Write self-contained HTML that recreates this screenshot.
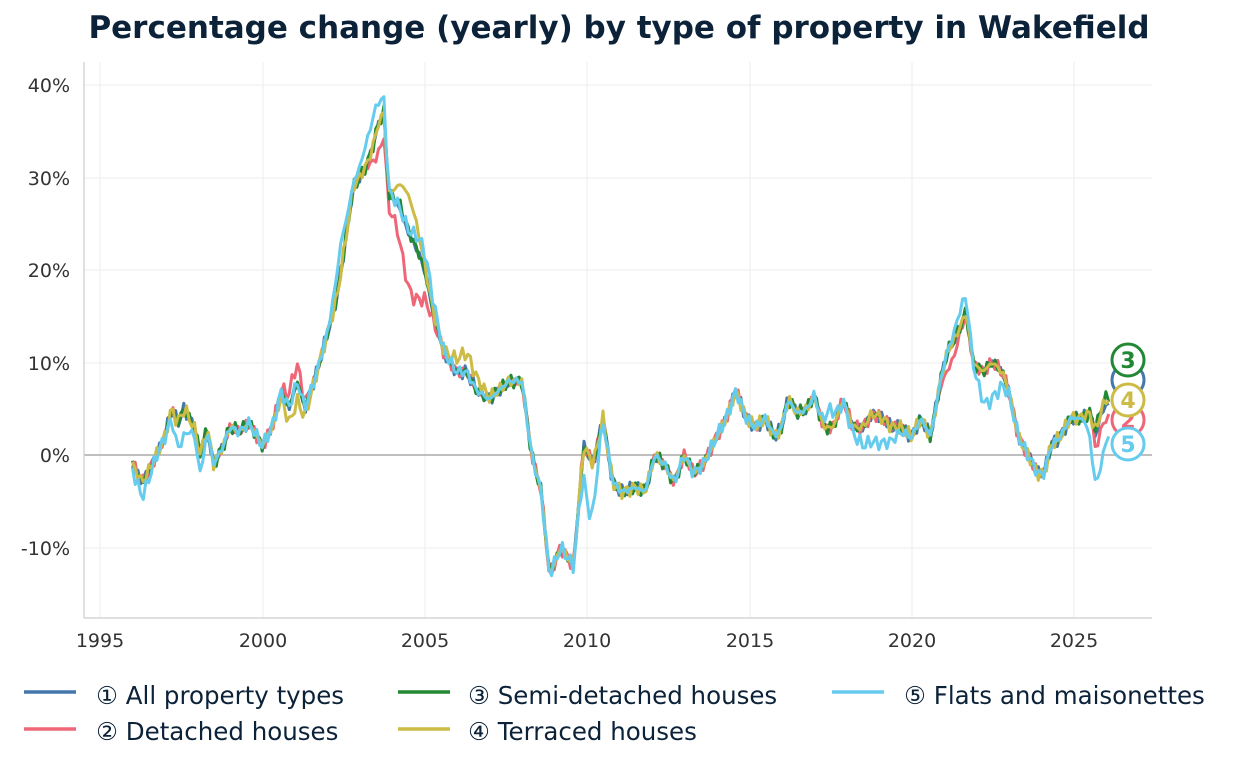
<!DOCTYPE html><html><head><meta charset="utf-8"><style>
body{margin:0;background:#fff;font-family:"Liberation Sans","DejaVu Sans",sans-serif;}
</style></head><body>
<svg id="c" width="1236" height="770" xmlns="http://www.w3.org/2000/svg" font-family="DejaVu Sans, Liberation Sans, sans-serif">
<text x="619" y="38" text-anchor="middle" font-size="31" font-weight="bold" fill="#0b2239">Percentage change (yearly) by type of property in Wakefield</text>
<g stroke="#eeeeee" stroke-width="1">
<line x1="100" y1="62" x2="100" y2="618"/><line x1="263" y1="62" x2="263" y2="618"/><line x1="425" y1="62" x2="425" y2="618"/><line x1="587" y1="62" x2="587" y2="618"/><line x1="750" y1="62" x2="750" y2="618"/><line x1="912" y1="62" x2="912" y2="618"/><line x1="1074" y1="62" x2="1074" y2="618"/>
<line x1="84" y1="85" x2="1152" y2="85"/><line x1="84" y1="178" x2="1152" y2="178"/><line x1="84" y1="270" x2="1152" y2="270"/><line x1="84" y1="363" x2="1152" y2="363"/><line x1="84" y1="548" x2="1152" y2="548"/>
</g>
<line x1="84" y1="455" x2="1152" y2="455" stroke="#aaa" stroke-width="1.5"/>
<g stroke="#ccc" stroke-width="1.2"><line x1="84" y1="62" x2="84" y2="618"/><line x1="84" y1="618" x2="1152" y2="618"/></g>
<g font-size="19" fill="#333" text-anchor="end">
<text x="70" y="92">40%</text><text x="70" y="185">30%</text><text x="70" y="277">20%</text><text x="70" y="370">10%</text><text x="70" y="462">0%</text><text x="70" y="555">-10%</text></g>
<g font-size="19" fill="#333" text-anchor="middle">
<text x="100" y="647">1995</text><text x="263" y="647">2000</text><text x="425" y="647">2005</text><text x="587" y="647">2010</text><text x="750" y="647">2015</text><text x="912" y="647">2020</text><text x="1074" y="647">2025</text></g>
<g id="series"></g>
<g font-size="22" font-weight="bold" text-anchor="middle" stroke-width="3" fill="#fff">
<circle cx="1128" cy="380" r="16" stroke="#4477aa"/>
<circle cx="1128" cy="360" r="16" stroke="#228833"/><text x="1128" y="368" fill="#228833" stroke="none">3</text>
<circle cx="1128" cy="420" r="16" stroke="#ee6677"/><text x="1128" y="428" fill="#ee6677" stroke="none">2</text>
<circle cx="1128" cy="400" r="16" stroke="#ccbb44"/><text x="1128" y="408" fill="#ccbb44" stroke="none">4</text>
<circle cx="1128" cy="444" r="16" stroke="#66ccee"/><text x="1128" y="452" fill="#66ccee" stroke="none">5</text>
</g>
<g stroke-width="3.5">
<line x1="24" y1="692" x2="76" y2="692" stroke="#4477aa"/><line x1="24" y1="729" x2="76" y2="729" stroke="#ee6677"/>
<line x1="398" y1="692" x2="450" y2="692" stroke="#228833"/><line x1="398" y1="729" x2="450" y2="729" stroke="#ccbb44"/>
<line x1="832" y1="692" x2="884" y2="692" stroke="#66ccee"/></g>
<g font-size="24.5" fill="#0b2239">
<text x="96" y="704">① All property types</text><text x="96" y="740">② Detached houses</text>
<text x="468" y="704">③ Semi-detached houses</text><text x="468" y="740">④ Terraced houses</text>
<text x="904" y="704">⑤ Flats and maisonettes</text></g>
</svg>
<script>
var base=[[1996,-1],[1996.3,-3],[1996.6,-1],[1997,2],[1997.2,5],[1997.4,3.5],[1997.6,5],[1997.9,3],[1998.1,0],[1998.3,3],[1998.5,-1],[1998.8,1],[1999,3],[1999.3,2.5],[1999.6,3.5],[2000,1],[2000.3,3],[2000.6,7],[2000.8,5],[2001.1,8],[2001.3,5],[2001.6,8],[2002,13],[2002.3,17],[2002.6,24],[2002.8,29],[2003,30],[2003.3,32],[2003.6,36],[2003.75,37],[2003.9,28],[2004.2,27],[2004.5,24],[2004.8,22],[2005,20],[2005.3,15],[2005.6,11],[2006,9],[2006.3,9],[2006.6,7],[2007,6],[2007.3,7],[2007.6,8],[2008,8],[2008.3,0],[2008.6,-4],[2008.85,-13],[2009.2,-10],[2009.6,-12],[2009.9,1],[2010.2,-1],[2010.5,4],[2010.8,-3],[2011.1,-4],[2011.5,-3.5],[2011.8,-4],[2012.1,0],[2012.4,-1],[2012.7,-3],[2013,0],[2013.3,-2],[2013.6,-1],[2014,2],[2014.3,4],[2014.6,7],[2014.9,4],[2015.2,3],[2015.5,4],[2015.8,2],[2016,3],[2016.2,6],[2016.5,4.5],[2016.8,5],[2017,6.5],[2017.3,3],[2017.6,3],[2017.9,6],[2018.2,3],[2018.5,3],[2018.8,4.5],[2019.1,4],[2019.4,3],[2019.7,3],[2020,2],[2020.3,4],[2020.6,2],[2020.9,8],[2021.1,11],[2021.4,13],[2021.7,15.5],[2021.9,10],[2022.2,9],[2022.5,10],[2022.8,9],[2023,7],[2023.3,2],[2023.6,0],[2023.9,-2],[2024.1,-2],[2024.3,1],[2024.6,2],[2024.9,4],[2025.2,4],[2025.5,4.5],[2025.7,2],[2025.9,5],[2026.1,5.5]];
function interp(pts,t){for(var i=0;i<pts.length-1;i++){if(t<=pts[i+1][0]){var a=pts[i],b=pts[i+1],f=(t-a[0])/(b[0]-a[0]);return a[1]+(b[1]-a[1])*f;}}return pts[pts.length-1][1];}
function bump(t,c,w,h){var d=(t-c)/w;return h*Math.exp(-d*d);}
var defs={
"#4477aa":function(t){return 0;},
"#ee6677":function(t){return bump(t,2004.6,0.5,-6)+bump(t,2003.6,0.25,-3)+bump(t,2001,0.3,2)+bump(t,2021.2,0.3,-2)+(t>2025.6?-1.5:0);},
"#ccbb44":function(t){return bump(t,2004.5,0.4,4)+bump(t,2006.3,0.5,2)+bump(t,2001,0.4,-2)+(t>2025.6?0.5:0);},
"#228833":function(t){return bump(t,2004.3,0.3,0.5)+(t>2025.6?0.8:0);},
"#66ccee":function(t){return bump(t,2003.4,0.4,3)+bump(t,2002.4,0.25,3)+bump(t,2005,0.4,2)+bump(t,2010.1,0.25,-6)+bump(t,2018.9,0.6,-3)+bump(t,2022.4,0.4,-4)+bump(t,2025.7,0.25,-5)+bump(t,2026,0.2,-3)+bump(t,1997.5,0.3,-3)+bump(t,1998.1,0.15,-2)+bump(t,2017.5,0.2,2)+bump(t,2021.6,0.3,2)+bump(t,1996.3,0.3,-1.5);}
};
var order=["#4477aa","#ee6677","#228833","#ccbb44","#66ccee"];
var g=document.getElementById("series"),s="";
order.forEach(function(col,k){var p=[];for(var t=1996;t<=2026.1;t+=1/12){var v=interp(base,t)+defs[col](t)+0.8*Math.sin(t*37+k*2.1)*Math.sin(t*11+k);var x=100+(t-1995)*32.45,y=455-v*9.25;p.push(x.toFixed(1)+","+y.toFixed(1));}
s+='<polyline fill="none" stroke="'+col+'" stroke-width="3" stroke-linejoin="round" points="'+p.join(" ")+'"/>';});
g.innerHTML=s;
</script>
</body></html>
